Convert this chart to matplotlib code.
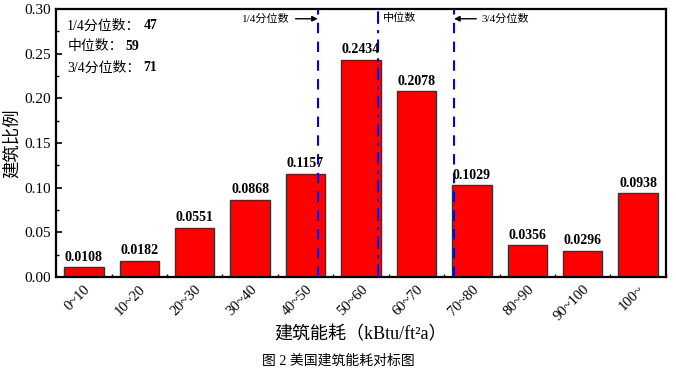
import matplotlib
matplotlib.use("Agg")
import matplotlib.pyplot as plt
import matplotlib.transforms as mtransforms
from matplotlib.ticker import MultipleLocator

plt.rcParams['font.family'] = ['Liberation Serif', 'Noto Sans CJK SC']

# Data
categories = ["0~10", "10~20", "20~30", "30~40", "40~50", "50~60",
              "60~70", "70~80", "80~90", "90~100", "100~"]
ratios = [0.0108, 0.0182, 0.0551, 0.0868, 0.1157, 0.2434,
          0.2078, 0.1029, 0.0356, 0.0296, 0.0938]
quartile_names = ["1/4分位数", "中位数", "3/4分位数"]
quartile_values = [47, 59, 71]

fig = plt.figure(figsize=(6.76, 3.72), dpi=100)
ax = fig.add_axes([0.083, 0.255, 0.902, 0.721])

x = list(range(len(categories)))
bars = ax.bar(x, ratios, width=0.71, color="#ff0000",
              edgecolor="#333333", linewidth=1.0, zorder=2)

for xi, v in zip(x, ratios):
    ax.text(xi, v + 0.004, f"{v:.4f}", ha="center", va="bottom",
            fontsize=10, fontweight="bold", zorder=4)

# quartile lines (placed on the category axis)
line_pos = [4.22, 5.31, 6.68]
ax.axvline(line_pos[0], color="#0000ee", linestyle=(0, (5, 4)), linewidth=1.5, zorder=3)
ax.axvline(line_pos[1], color="#0000ee", linestyle=(0, (6, 3, 1.5, 3)), linewidth=1.5, zorder=3)
ax.axvline(line_pos[2], color="#0000ee", linestyle=(0, (5, 4)), linewidth=1.5, zorder=3)

ax.annotate(quartile_names[0], xy=(line_pos[0], 0.289), xytext=(line_pos[0] - 0.5, 0.289),
            fontsize=8, ha="right", va="center",
            arrowprops=dict(arrowstyle="-|>", color="black", lw=1.0, shrinkA=2, shrinkB=0,
                            mutation_scale=8))
ax.text(line_pos[1] + 0.08, 0.2895, quartile_names[1], fontsize=8, ha="left", va="center")
ax.annotate(quartile_names[2], xy=(line_pos[2], 0.289), xytext=(line_pos[2] + 0.5, 0.289),
            fontsize=8, ha="left", va="center",
            arrowprops=dict(arrowstyle="-|>", color="black", lw=1.0, shrinkA=2, shrinkB=0,
                            mutation_scale=8))

# summary text
for i, (name, val) in enumerate(zip(quartile_names, quartile_values)):
    t = ax.text(-0.3, 0.281 - i * 0.0235, f"{name}：", fontsize=10, ha="left", va="center")
    ax.annotate(str(val), xy=(1, 0.5), xycoords=t, xytext=(2, 0), textcoords="offset points",
                fontsize=10, fontweight="bold", ha="left", va="center")

ax.set_xlim(-0.48, 10.38)
ax.set_ylim(0, 0.30)
ax.set_xticks(x)
ax.set_xticklabels(categories, rotation=45, ha="right", rotation_mode="anchor", fontsize=10.5)
shift = mtransforms.ScaledTranslation(-3 / 100, -2 / 100, fig.dpi_scale_trans)
for lab in ax.get_xticklabels():
    lab.set_transform(lab.get_transform() + shift)
ax.set_xticks([i + 0.5 for i in range(-1, 11)], minor=True)
ax.yaxis.set_major_locator(MultipleLocator(0.05))
ax.yaxis.set_minor_locator(MultipleLocator(0.025))
ax.yaxis.set_major_formatter(plt.FormatStrFormatter("%.2f"))
ax.tick_params(axis="both", which="both", direction="in", top=False, right=False)
ax.tick_params(axis="both", which="major", length=4, width=1.2)
ax.tick_params(axis="y", which="major", labelsize=11)
ax.tick_params(axis="both", which="minor", length=2, width=1.0)
ax.tick_params(axis="x", which="major", pad=4)

for s in ax.spines.values():
    s.set_linewidth(1.6)

ax.set_ylabel("建筑比例", fontsize=12.5, labelpad=3)
ax.set_xlabel("建筑能耗（kBtu/ft²a）", fontsize=13, labelpad=2)

fig.text(0.5, 0.03, "图 2 美国建筑能耗对标图", ha="center", va="center", fontsize=10)

fig.savefig("out.png", dpi=100)
